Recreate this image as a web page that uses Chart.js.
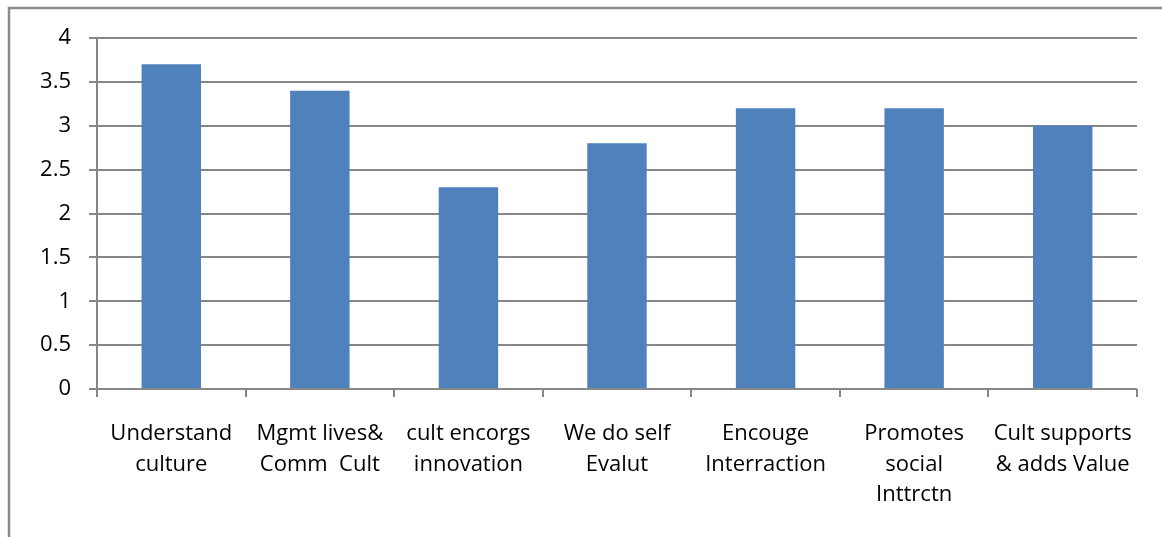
<!DOCTYPE html>
<html>
<head>
<meta charset="utf-8">
<script src="https://cdn.jsdelivr.net/npm/chart.js@4"></script>
<style>
  html, body { margin: 0; padding: 0; background: #fff; overflow: hidden; }
  #wrap { width: 1162px; height: 537px; position: relative; }
</style>
</head>
<body>
<div id="wrap"><canvas id="cultureChart"></canvas></div>
<script>
// Categories (wrapped labels) and mean scores
const categories = [
  ["Understand", "culture"],
  ["Mgmt lives&", "Comm  Cult"],
  ["cult encorgs", "innovation"],
  ["We do self", "Evalut"],
  ["Encouge", "Interraction"],
  ["Promotes", "social", "Inttrctn"],
  ["Cult supports", "& adds Value"]
];
const scores = [3.7, 3.4, 2.3, 2.8, 3.2, 3.2, 3.0];
const yTickLabels = ["0", "0.5", "1", "1.5", "2", "2.5", "3", "3.5", "4"];

const gridGray = "#878787";
const labelFont = { family: "'Open Sans', sans-serif", size: 22, lineHeight: 1.38 };

// frame around the whole chart (cut off on the right and bottom)
const outerFrame = {
  id: "outerFrame",
  beforeDraw(chart) {
    const ctx = chart.ctx;
    ctx.save();
    ctx.strokeStyle = "#8a8a8a";
    ctx.lineWidth = 2.5;
    ctx.strokeRect(9, 8, 1300, 700);
    ctx.restore();
  }
};

new Chart(document.getElementById("cultureChart"), {
  type: "bar",
  data: {
    labels: categories,
    datasets: [{
      data: scores,
      backgroundColor: "#4F81BD",
      borderWidth: 0,
      barPercentage: 0.4,
      categoryPercentage: 1
    }]
  },
  options: {
    responsive: true,
    maintainAspectRatio: false,
    animation: false,
    layout: { padding: { top: 38, right: 25, bottom: 0, left: 0 } },
    plugins: {
      legend: { display: false },
      tooltip: { enabled: false }
    },
    scales: {
      x: {
        grid: {
          display: true,
          offset: true,
          drawOnChartArea: false,
          drawTicks: true,
          tickLength: 8,
          color: gridGray,
          lineWidth: 2
        },
        border: { display: false },
        ticks: {
          color: "#000",
          font: labelFont,
          padding: 22,
          maxRotation: 0,
          autoSkip: false
        },
        afterFit(scale) { scale.height = 148; }
      },
      y: {
        min: 0,
        max: 4,
        grid: {
          color: gridGray,
          lineWidth: 2,
          tickLength: 8
        },
        border: { display: true, color: gridGray, width: 2 },
        ticks: {
          stepSize: 0.5,
          color: "#000",
          font: labelFont,
          padding: 18,
          callback: (v, i) => yTickLabels[i]
        },
        afterFit(scale) { scale.width = 97; }
      }
    }
  },
  plugins: [outerFrame]
});
</script>
</body>
</html>
